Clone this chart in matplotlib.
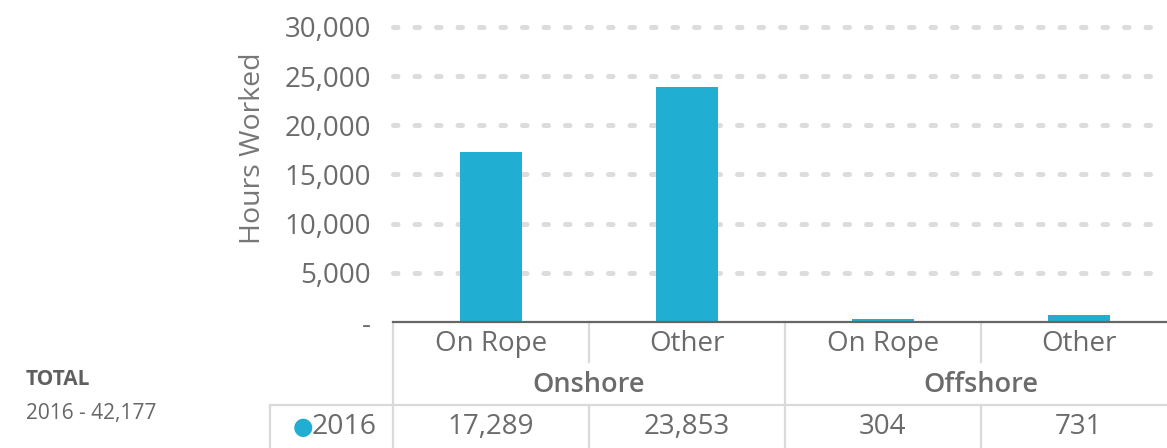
import matplotlib.pyplot as plt
from matplotlib.transforms import blended_transform_factory
from matplotlib.lines import Line2D

plt.rcParams['font.family'] = ['Open Sans', 'DejaVu Sans']

sub_labels = ['On Rope', 'Other', 'On Rope', 'Other']
groups = ['Onshore', 'Offshore']
series_name = '2016'
hours_2016 = [17289, 23853, 304, 731]
total_text = '2016 - 42,177'
yticks = [0, 5000, 10000, 15000, 20000, 25000, 30000]

bar_color = '#20aed2'
text_color = '#6b6b6b'
line_color = '#dadada'

W, H = 1167, 448
fig = plt.figure(figsize=(W / 100, H / 100), dpi=100)
ax = fig.add_axes([393 / W, 126 / H, 774 / W, 295 / H])

x = list(range(len(hours_2016)))
ax.bar(x, hours_2016, width=0.316, color=bar_color, zorder=3)
ax.set_xlim(-0.5, 3.449)
ax.set_ylim(0, 30000)

ax.set_yticks(yticks)
ax.set_yticklabels(['-' if v == 0 else f'{v:,}' for v in yticks])
ax.tick_params(axis='y', length=0, pad=16, labelsize=20, labelcolor=text_color)
ax.set_xticks([])
for v in yticks[1:]:
    ax.axhline(v, color='#dcdcdc', lw=3.6, linestyle=(0, (0.9, 3.4)),
               dash_capstyle='round', zorder=1, clip_on=False)
for s in ['top', 'right', 'left']:
    ax.spines[s].set_visible(False)
ax.spines['bottom'].set_color('#666666')
ax.spines['bottom'].set_linewidth(1.6)
ax.spines['bottom'].set_zorder(4)
fig.text(253 / W, (H - 148) / H, 'Hours Worked', rotation=90, ha='center', va='center',
         fontsize=20.5, color='#777777')

# table under the axis
tr = blended_transform_factory(ax.transData, ax.transAxes)
px = 1 / 295.0
r1 = -43 * px
r2 = -83 * px
r3 = -126 * px

def vline(xd, y0, y1):
    ax.add_line(Line2D([xd, xd], [y0, y1], transform=tr, color=line_color,
                       lw=1.6, clip_on=False))

vline(-0.5, 0, r3)
vline(1.5, 0, r3)
vline(0.5, 0, r1 + 0.01)
vline(2.5, 0, r1 + 0.01)
vline(0.5, r2, r3)
vline(2.5, r2, r3)
# line above the data row, from the legend cell to the right edge
ax.add_line(Line2D([270 / W, 1.0], [43 / H, 43 / H], transform=fig.transFigure,
                   color=line_color, lw=1.6, clip_on=False))
ax.add_line(Line2D([270 / W, 270 / W], [0, 43 / H], transform=fig.transFigure,
                   color=line_color, lw=1.6, clip_on=False))

for i, lab in enumerate(sub_labels):
    ax.text(i, r1 / 2, lab, transform=tr, ha='center', va='center',
            fontsize=20, color=text_color)
for g, lab in enumerate(groups):
    ax.text(2 * g + 0.5, (r1 + r2) / 2, lab, transform=tr, ha='center', va='center',
            fontsize=19.5, fontweight='semibold', color=text_color)
for i, v in enumerate(hours_2016):
    ax.text(i, (r2 + r3) / 2, f'{v:,}', transform=tr, ha='center', va='center',
            fontsize=20, color=text_color)

# legend cell
fig.text(303 / W, 21 / H, '\u25cf', ha='center', va='center', fontsize=17,
         color=bar_color, family=['DejaVu Sans'])
fig.text(312 / W, 21 / H, series_name, ha='left', va='center', fontsize=20.5,
         color=text_color)

fig.text(26 / W, 69 / H, 'TOTAL', ha='left', va='center', fontsize=15,
         fontweight='bold', color='#5f5f5f')
fig.text(26 / W, 35 / H, total_text, ha='left', va='center', fontsize=15,
         color='#666666')

fig.savefig('out.png', dpi=100)
